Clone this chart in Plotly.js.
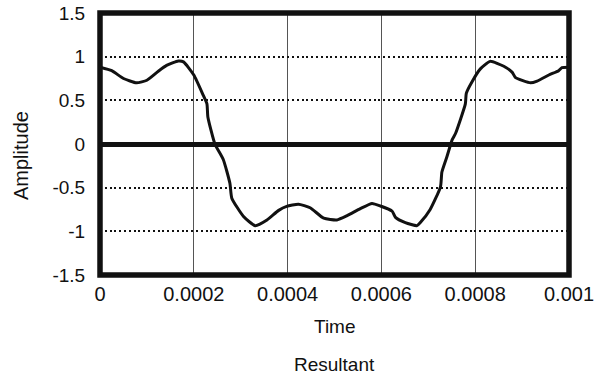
<!DOCTYPE html>
<html>
<head>
<meta charset="utf-8">
<script src="https://cdn.plot.ly/plotly-3.0.1.min.js"></script>
<style>html,body{margin:0;padding:0;background:#fff;}#chart{width:598px;height:382px;}</style>
</head>
<body>
<div id="chart"></div>
<script>
const time = [0, 0.000025, 0.00005, 0.000078, 0.0001, 0.000125, 0.000142, 0.000167, 0.000178, 0.0002,
  0.00022, 0.000228, 0.00023, 0.000245, 0.000263, 0.000277, 0.000281, 0.000306, 0.000331, 0.000356,
  0.000381, 0.000398, 0.000423, 0.000448, 0.000477, 0.000505, 0.000527, 0.000555, 0.00058, 0.000598,
  0.000623, 0.00063, 0.000651, 0.000676, 0.000683, 0.000704, 0.000726, 0.000729, 0.00074, 0.000751,
  0.000758, 0.000779, 0.000781, 0.000793, 0.000811, 0.000832, 0.000861, 0.000879, 0.000886, 0.000918,
  0.000932, 0.000957, 0.000978, 0.000985, 0.001];
const amplitude = [0.88, 0.84, 0.75, 0.70, 0.73, 0.836, 0.90, 0.95, 0.94, 0.79,
  0.56, 0.46, 0.31, 0.0, -0.18, -0.45, -0.62, -0.83, -0.935, -0.87,
  -0.76, -0.715, -0.69, -0.73, -0.85, -0.87, -0.82, -0.74, -0.68, -0.71,
  -0.77, -0.84, -0.90, -0.935, -0.90, -0.75, -0.49, -0.32, -0.14, 0.05,
  0.12, 0.46, 0.58, 0.71, 0.86, 0.946, 0.89, 0.82, 0.76, 0.70,
  0.72, 0.79, 0.84, 0.875, 0.88];
const xTickVals = [0, 0.0002, 0.0004, 0.0006, 0.0008, 0.001];
const xTickText = ["0", "0.0002", "0.0004", "0.0006", "0.0008", "0.001"];
const yTickVals = [-1.5, -1, -0.5, 0, 0.5, 1, 1.5];
const yTickText = ["-1.5", "-1", "-0.5", "0", "0.5", "1", "1.5"];
const xTitle = "Time";
const yTitle = "Amplitude";
const caption = "Resultant";

const font = "Liberation Sans, Arial, sans-serif";
const trace = {
  x: time, y: amplitude, type: "scatter", mode: "lines",
  line: {color: "#111", width: 3, shape: "spline", smoothing: 0.5},
  hoverinfo: "skip"
};
const layout = {
  width: 598, height: 382,
  margin: {l: 100, r: 29, t: 13, b: 107, pad: 0},
  paper_bgcolor: "#fff", plot_bgcolor: "#fff",
  showlegend: false,
  font: {family: font, color: "#111", size: 19},
  xaxis: {
    range: [0, 0.001], tickvals: xTickVals, ticktext: xTickText,
    showgrid: true, gridcolor: "#555", gridwidth: 1,
    zeroline: false, showline: false, ticks: "outside", ticklen: 1, tickcolor: "rgba(0,0,0,0)",
    tickfont: {size: 20, family: font, color: "#111"}, fixedrange: true
  },
  yaxis: {
    range: [-1.5, 1.5], tickvals: yTickVals, ticktext: yTickText,
    showgrid: true, gridcolor: "#111", gridwidth: 2, griddash: "2px,2.8px",
    zeroline: true, zerolinecolor: "#111", zerolinewidth: 5,
    showline: false, ticks: "outside", ticklen: 10, tickcolor: "rgba(0,0,0,0)",
    tickfont: {size: 19, family: font, color: "#111"}, fixedrange: true
  },
  shapes: [{type: "rect", xref: "paper", yref: "paper", x0: 0, x1: 1, y0: 0, y1: 1,
    line: {color: "#111", width: 5.5}, fillcolor: "rgba(0,0,0,0)", layer: "above"}],
  annotations: [
    {text: xTitle, xref: "paper", yref: "paper", x: 0.5, y: 0, xanchor: "center", yanchor: "middle",
     yshift: -51, showarrow: false, font: {size: 19, family: font, color: "#111"}},
    {text: caption, xref: "paper", yref: "paper", x: 0.5, y: 0, xanchor: "center", yanchor: "middle",
     yshift: -89, showarrow: false, font: {size: 19, family: font, color: "#111"}},
    {text: yTitle, xref: "paper", yref: "paper", x: 0, y: 0.5, xanchor: "center", yanchor: "middle",
     xshift: -79, yshift: -12, textangle: -90, showarrow: false, font: {size: 20, family: font, color: "#111"}}
  ]
};
Plotly.newPlot("chart", [trace], layout, {displayModeBar: false, staticPlot: true});
</script>
</body>
</html>
